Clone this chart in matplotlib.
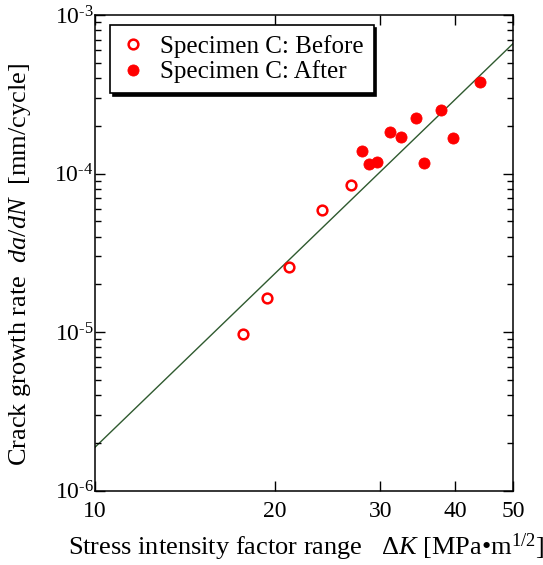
import matplotlib
matplotlib.use('Agg')
import matplotlib.pyplot as plt
from matplotlib.ticker import FixedLocator, NullLocator, FixedFormatter, LogLocator

# data
dk_before = [17.7, 19.4, 21.1, 24.0, 26.8]
rate_before = [9.8e-6, 1.65e-5, 2.58e-5, 5.9e-5, 8.5e-5]

dk_after = [27.9, 28.7, 29.6, 31.1, 32.5, 34.4, 35.5, 37.9, 39.7, 44.1]
rate_after = [1.38e-4, 1.15e-4, 1.19e-4, 1.83e-4, 1.69e-4, 2.24e-4, 1.17e-4, 2.5e-4, 1.68e-4, 3.8e-4]

# fitted line end points
dk_fit = [10, 50]
rate_fit = [1.88e-6, 6.6e-4]

x_ticks = [10, 20, 30, 40, 50]
y_exps = [-6, -5, -4, -3]

plt.rcParams['font.family'] = ['Liberation Serif', 'DejaVu Serif']
plt.rcParams['mathtext.fontset'] = 'custom'
plt.rcParams['mathtext.rm'] = 'Liberation Serif'
plt.rcParams['mathtext.it'] = 'Liberation Serif:italic'

fig = plt.figure(figsize=(5.43, 5.65), dpi=100)
ax = fig.add_axes([0.175, 0.1315, 0.9448 - 0.175, 0.9735 - 0.1315])

ax.plot(dk_fit, rate_fit, color='#2f5a2f', lw=1.0, zorder=1)
ax.plot(dk_before, rate_before, 'o', ms=7, mfc='white', mec='red', mew=1.8,
        label='Specimen C: Before', zorder=3)
ax.plot(dk_after, rate_after, 'o', ms=8, mfc='red', mec='red', mew=0.6,
        label='Specimen C: After', zorder=3)

ax.set_xscale('log')
ax.set_yscale('log')
ax.set_xlim(10, 50)
ax.set_ylim(1e-6, 1e-3)

ax.xaxis.set_major_locator(FixedLocator(x_ticks))
ax.xaxis.set_major_formatter(FixedFormatter([str(t) for t in x_ticks]))
ax.xaxis.set_minor_locator(NullLocator())
ax.yaxis.set_major_locator(FixedLocator([10.0 ** e for e in y_exps]))
ax.yaxis.set_major_formatter(FixedFormatter([r'$10^{\text{-}%d}$' % -e for e in y_exps]))
ax.yaxis.set_minor_locator(LogLocator(base=10, subs=range(2, 10), numticks=10))

ax.tick_params(which='both', direction='in', top=True, right=True)
ax.tick_params(which='major', length=7.5, width=1.0, labelsize=17)
ax.tick_params(axis='x', which='major', pad=7.5)
ax.tick_params(axis='y', which='major', pad=1)
ax.tick_params(which='minor', length=4.5, width=1.0)
for s in ax.spines.values():
    s.set_linewidth(1.1)

ax.set_xlabel(r'Stress intensity factor range   $\mathit{\Delta K}$ [MPa•m$^{1/2}$]', fontsize=19)
ax.set_ylabel(r'Crack growth rate  $\mathit{da/dN}$  [mm/cycle]', fontsize=19)
ax.xaxis.set_label_coords(0.505, -0.085)
ax.yaxis.set_label_coords(-0.148, 0.475)

leg = ax.legend(loc='upper left', bbox_to_anchor=(0.036, 0.979), borderaxespad=0,
                fancybox=False, framealpha=1, edgecolor='black',
                shadow={'color': 'black', 'alpha': 1}, fontsize=18,
                handlelength=1.0, handletextpad=0.6, borderpad=0.4, labelspacing=0.1)
leg.get_frame().set_linewidth(1.2)

fig.savefig('out.png', dpi=100)
